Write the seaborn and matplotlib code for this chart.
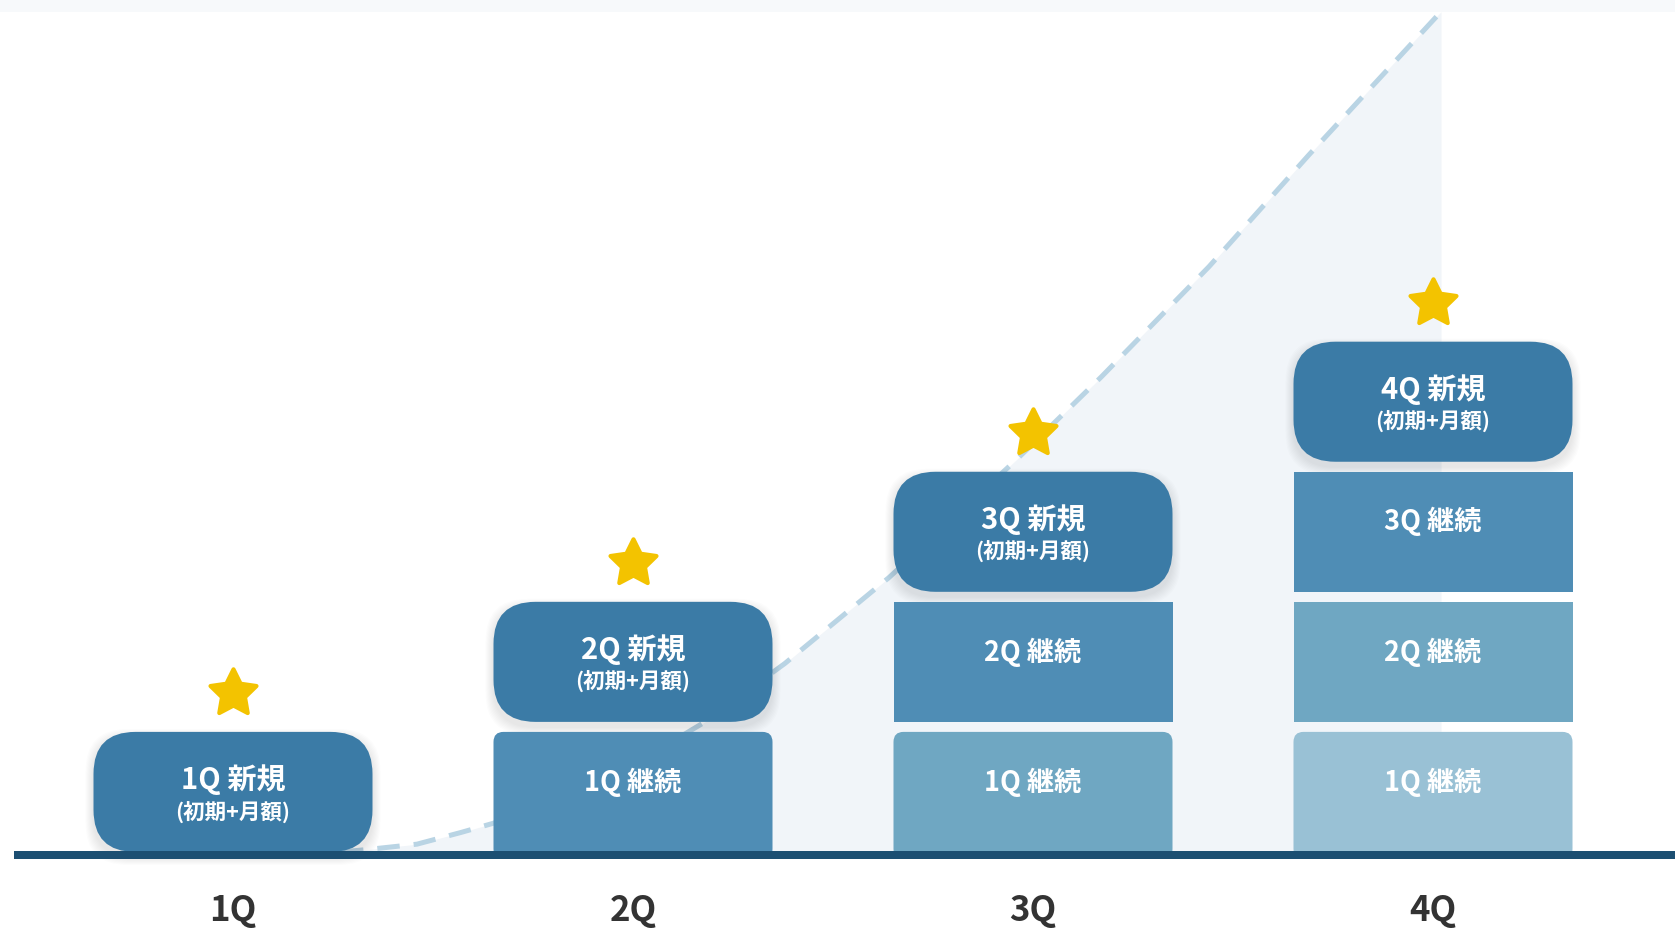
import numpy as np
import matplotlib
matplotlib.use('Agg')
import matplotlib.pyplot as plt
import seaborn as sns
from matplotlib.patches import FancyBboxPatch, Rectangle
from matplotlib.path import Path
from matplotlib.markers import MarkerStyle

# Data
quarters = ['1Q', '2Q', '3Q', '4Q']
new_title = '新規'
new_sub = '(初期+月額)'
cont_title = '継続'
# carried-over blocks stacked under each quarter's new block (bottom -> top)
carry_over = [[], ['1Q'], ['1Q', '2Q'], ['1Q', '2Q', '3Q']]

# dashed growth curve (x = quarter index, y = block level)
curve_x = [0.27, 0.34, 0.46, 0.57, 0.65, 0.92, 1.18, 1.38, 1.64, 1.96, 2.17, 2.44, 2.69, 3.02]
curve_y = [0.00, 0.02, 0.06, 0.15, 0.22, 0.52, 1.00, 1.45, 2.11, 3.02, 3.65, 4.50, 5.36, 6.46]

# Style
sns.set_theme(style='white')
plt.rcParams['font.family'] = ['Noto Sans CJK JP', 'DejaVu Sans']

PX_X, PX_Y = 400, 130          # pixels per data unit
W, H = 279 / PX_X, 120 / PX_Y  # block size
depth_colors = ['#3b7ba6', '#4f8db5', '#6fa7c2', '#99c1d5']

fig = plt.figure(figsize=(16.75, 9.285), dpi=100)
ax = fig.add_axes([0, 0, 1, 1])
ax.set_xlim(-233 / PX_X, 1442 / PX_X)
ax.set_ylim(-76 / PX_Y, 852 / PX_Y)
ax.axis('off')


def block(x0, y0, w, h, color, r_px, z, alpha=1.0, pad_px=0):
    p = FancyBboxPatch((x0, y0), w, h,
                       boxstyle=f'round,pad={pad_px / PX_X},rounding_size={r_px / PX_X}',
                       mutation_aspect=PX_X / PX_Y, fc=color, ec='none',
                       alpha=alpha, zorder=z)
    ax.add_patch(p)


# top strip
ax.axhspan(840 / PX_Y, 900 / PX_Y, color='#f7f9fb', zorder=0, lw=0)

# shaded area + dashed curve
ax.fill_between(curve_x, curve_y, 0, color='#f1f5f9', lw=0, zorder=0.5)
sns.lineplot(x=curve_x, y=curve_y, ax=ax, color='#b9d4e4', lw=3.6, zorder=1)
ax.lines[-1].set_dashes((4.5, 2.8))

star = np.array([[np.sin(a) * r, np.cos(a) * r]
                 for a, r in zip(np.arange(10) * np.pi / 5, [1, 0.5] * 5)])
star_marker = MarkerStyle(Path(np.vstack([star, star[:1]]), closed=True), joinstyle='round')

for i, q in enumerate(quarters):
    levels = carry_over[i]
    n = len(levels)
    for k, src in enumerate(levels):
        color = depth_colors[n - k]
        if k == 0:
            # bottom edge tucked under the baseline
            block(i - W / 2, -7 / PX_Y, W, H + 7 / PX_Y, color, 10, 3)
        else:
            ax.add_patch(Rectangle((i - W / 2, k), W, H, fc=color, ec='none', zorder=3))
        ax.text(i, k + H - 49.5 / PX_Y, f'{src} {cont_title}', ha='center', va='center',
                color='white', fontsize=19.5, fontweight='bold', zorder=4)

    # soft shadow
    for s in range(1, 9):
        block(i - W / 2, n - 5 / PX_Y, W, H, '#000000', 42, 2, alpha=0.012, pad_px=s)
    block(i - W / 2, n, W, H, depth_colors[0], 42, 3)
    ax.text(i, n + H - 47.5 / PX_Y, f'{q} {new_title}', ha='center', va='center',
            color='white', fontsize=21, fontweight='bold', zorder=4)
    ax.text(i, n + H - 80 / PX_Y, new_sub, ha='center', va='center',
            color='white', fontsize=15.5, fontweight='bold', zorder=4)

    ax.plot(i, n + H + 39 / PX_Y, marker=star_marker, ls='none', ms=34.8,
            mfc='#f3c300', mec='#f3c300', mew=3, zorder=5)

    ax.text(i, -69 / PX_Y, q, ha='center', va='baseline', color='#333333',
            fontsize=25, fontweight='bold', zorder=4)

# baseline
ax.plot([-219 / PX_X, 1442 / PX_X], [-3 / PX_Y, -3 / PX_Y], color='#1c4f72', lw=5.76,
        solid_capstyle='butt', zorder=6)

fig.savefig('out.png', dpi=100)
